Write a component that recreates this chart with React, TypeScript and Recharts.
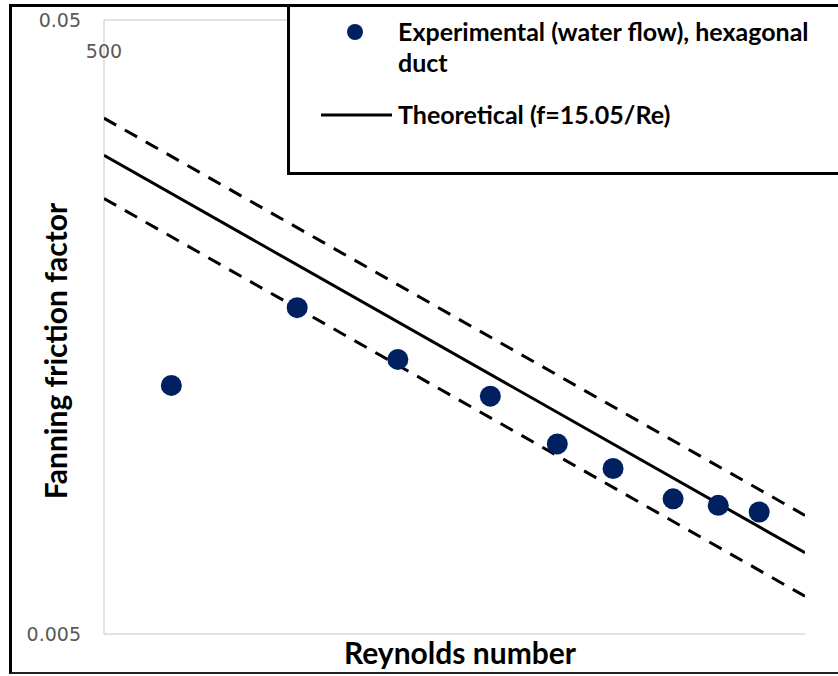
import React from "react";
import {
  ScatterChart,
  Scatter,
  XAxis,
  YAxis,
  Legend,
} from "recharts";

// Reynolds number / Fanning friction factor
const RE_EXP = [577, 754, 934, 1137, 1311, 1476, 1677, 1846, 2014];
const F_EXP = [0.0127, 0.017, 0.014, 0.0122, 0.0102, 0.0093, 0.0083, 0.0081, 0.0079];

// theoretical line f = 15.05/Re and the +/-15% band, at the axis ends
const RE_THEORY = [500, 2220];
const F_THEORY = [0.0301, 0.00678];
const F_UPPER = [0.0346, 0.0078];
const F_LOWER = [0.0256, 0.00576];

const RE_TICKS = [500];
const F_TICKS = [0.005, 0.05];

const toPoints = (xs: number[], ys: number[]) => xs.map((re, i) => ({ re, f: ys[i] }));

const expData = toPoints(RE_EXP, F_EXP);
const theoryData = toPoints(RE_THEORY, F_THEORY);
const upperData = toPoints(RE_THEORY, F_UPPER);
const lowerData = toPoints(RE_THEORY, F_LOWER);

const NAVY = "#002060";
const AXIS_GREY = "#d9d9d9";
const TICK_GREY = "#595959";
const TITLE_FONT = "Lato, 'Open Sans', sans-serif";
const TICK_FONT = "'DejaVu Sans', sans-serif";

const Dot = (p: any) => <circle cx={p.cx} cy={p.cy} r={10.5} fill={NAVY} />;
const NoDot = () => <g />;

const TopTick = (p: any) => (
  <text x={p.x} y={58} textAnchor="middle" fontFamily={TICK_FONT} fontSize={19} fill={TICK_GREY}>
    {p.payload.value}
  </text>
);

const LegendBox = () => (
  <div style={{ position: "relative", width: "100%", height: "100%", fontFamily: TITLE_FONT, fontWeight: 700, fontSize: 25, color: "#000" }}>
    <svg width={120} height={140} style={{ position: "absolute", left: 0, top: 0 }}>
      <circle cx={65} cy={25} r={8} fill={NAVY} />
      <line x1={31} x2={102} y1={108} y2={108} stroke="#000" strokeWidth={3} />
    </svg>
    <div style={{ position: "absolute", left: 108, top: 9, lineHeight: "31px", whiteSpace: "nowrap" }}>
      Experimental (water flow), hexagonal
      <br />
      duct
    </div>
    <div style={{ position: "absolute", left: 108, top: 92, lineHeight: "31px", whiteSpace: "nowrap" }}>
      Theoretical (f=15.05/Re)
    </div>
  </div>
);

export default function App() {
  return (
    <div style={{ position: "absolute", left: 0, top: 0, width: 838, height: 676, overflow: "hidden", background: "#fff" }}>
      <div
        style={{
          position: "absolute",
          left: 9,
          top: 4,
          width: 860,
          height: 665,
          borderLeft: "3px solid #000",
          borderTop: "3px solid #000",
          borderBottom: "2px solid #222",
        }}
      />
      <div style={{ position: "absolute", left: 0, top: 0 }}>
        <ScatterChart width={838} height={676} margin={{ top: 0, right: 33, bottom: 0, left: 24 }}>
          <XAxis
            dataKey="re"
            type="number"
            scale="log"
            domain={[500, 2220]}
            allowDataOverflow
            height={42}
            tick={false}
            tickLine={false}
            axisLine={{ stroke: AXIS_GREY, strokeWidth: 1.5 }}
            label={{
              content: () => (
                <text x={460} y={664} textAnchor="middle" fontFamily={TITLE_FONT} fontWeight={700} fontSize={30} fill="#000">
                  Reynolds number
                </text>
              ),
            }}
          />
          <XAxis
            xAxisId="top"
            orientation="top"
            dataKey="re"
            type="number"
            scale="log"
            domain={[500, 2220]}
            allowDataOverflow
            height={20}
            ticks={RE_TICKS}
            tick={<TopTick />}
            tickLine={false}
            axisLine={{ stroke: AXIS_GREY, strokeWidth: 1.5 }}
          />
          <YAxis
            dataKey="f"
            type="number"
            scale="log"
            domain={[0.005, 0.05]}
            allowDataOverflow
            width={80}
            ticks={F_TICKS}
            tickLine={false}
            tickSize={0}
            tickMargin={23}
            tick={{ fontFamily: TICK_FONT, fontSize: 19, fill: TICK_GREY }}
            axisLine={{ stroke: AXIS_GREY, strokeWidth: 1.5 }}
            label={{
              content: () => (
                <text
                  x={55}
                  y={351}
                  transform="rotate(-90, 55, 351)"
                  textAnchor="middle"
                  dominantBaseline="central"
                  fontFamily={TITLE_FONT}
                  fontWeight={700}
                  fontSize={30}
                  fill="#000"
                >
                  Fanning friction factor
                </text>
              ),
            }}
          />
          <Legend
            layout="vertical"
            align="center"
            verticalAlign="middle"
            content={<LegendBox />}
            wrapperStyle={{
              left: 287,
              top: 4,
              width: 600,
              height: 171,
              border: "3px solid #000",
              boxSizing: "border-box",
              background: "#fff",
            }}
          />
          <Scatter name="upper" data={upperData} shape={<NoDot />} line={{ stroke: "#000", strokeWidth: 3, strokeDasharray: "14 10" }} isAnimationActive={false} legendType="none" />
          <Scatter name="lower" data={lowerData} shape={<NoDot />} line={{ stroke: "#000", strokeWidth: 3, strokeDasharray: "14 10" }} isAnimationActive={false} legendType="none" />
          <Scatter name="Theoretical (f=15.05/Re)" data={theoryData} shape={<NoDot />} line={{ stroke: "#000", strokeWidth: 3 }} isAnimationActive={false} />
          <Scatter name="Experimental (water flow), hexagonal duct" data={expData} shape={<Dot />} isAnimationActive={false} />
        </ScatterChart>
      </div>
    </div>
  );
}
